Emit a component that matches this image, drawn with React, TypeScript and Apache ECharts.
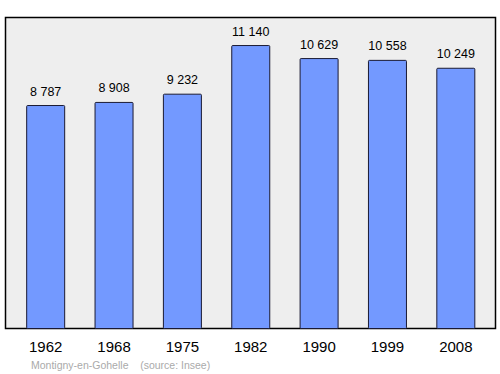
import React, { useEffect, useRef } from "react";
import * as echarts from "echarts";

const years = ["1962", "1968", "1975", "1982", "1990", "1999", "2008"];
const population = [8787, 8908, 9232, 11140, 10629, 10558, 10249];
const footerText = "Montigny-en-Gohelle    (source: Insee)";

const fmt = (v: number) => {
  const s = String(v);
  return s.length > 3 ? s.slice(0, s.length - 3) + " " + s.slice(s.length - 3) : s;
};

export default function App() {
  const ref = useRef<HTMLDivElement>(null);
  useEffect(() => {
    if (!ref.current) return;
    const chart = echarts.init(ref.current, null, { renderer: "svg" });
    chart.setOption({
      animation: false,
      textStyle: { fontFamily: "Liberation Sans, Arial, sans-serif" },
      graphic: [
        {
          type: "text",
          left: 31,
          top: 359,
          style: {
            text: footerText,
            fill: "#aaaaaa",
            font: "10.5px 'Liberation Sans', Arial, sans-serif",
          },
        },
      ],
      grid: [
        {
          left: 5.5,
          width: 490,
          top: 17.5,
          height: 311,
          show: true,
          backgroundColor: "#eeeeee",
          borderColor: "#000",
          borderWidth: 1.5,
          z: 0,
        },
        { left: 11.5, width: 478.5, top: 17, height: 312 },
      ],
      xAxis: [
        { gridIndex: 0, type: "value", show: false, min: 0, max: 1, splitLine: { show: false } },
        {
          gridIndex: 1,
          type: "category",
          data: years,
          axisLine: { show: false },
          axisTick: { show: false },
          axisLabel: { color: "#000", fontSize: 15, margin: 10 },
        },
      ],
      yAxis: [
        { gridIndex: 0, type: "value", show: false, min: 0, max: 1, splitLine: { show: false } },
        {
          gridIndex: 1,
          type: "value",
          min: 0,
          max: 12240,
          show: false,
          splitLine: { show: false },
        },
      ],
      series: [
        {
          type: "bar",
          xAxisIndex: 1,
          yAxisIndex: 1,
          data: population,
          barWidth: 39,
          z: 5,
          itemStyle: { color: "#7399ff", borderColor: "#1a1a33", borderWidth: 1, borderRadius: 1 },
          label: {
            show: true,
            position: "top",
            distance: 7,
            color: "#000",
            fontSize: 12.5,
            formatter: (p: any) => fmt(p.value),
          },
        },
      ],
    });
    return () => chart.dispose();
  }, []);
  return (
    <div
      ref={ref}
      style={{ position: "absolute", left: 0, top: 0, width: 500, height: 374 }}
    />
  );
}
